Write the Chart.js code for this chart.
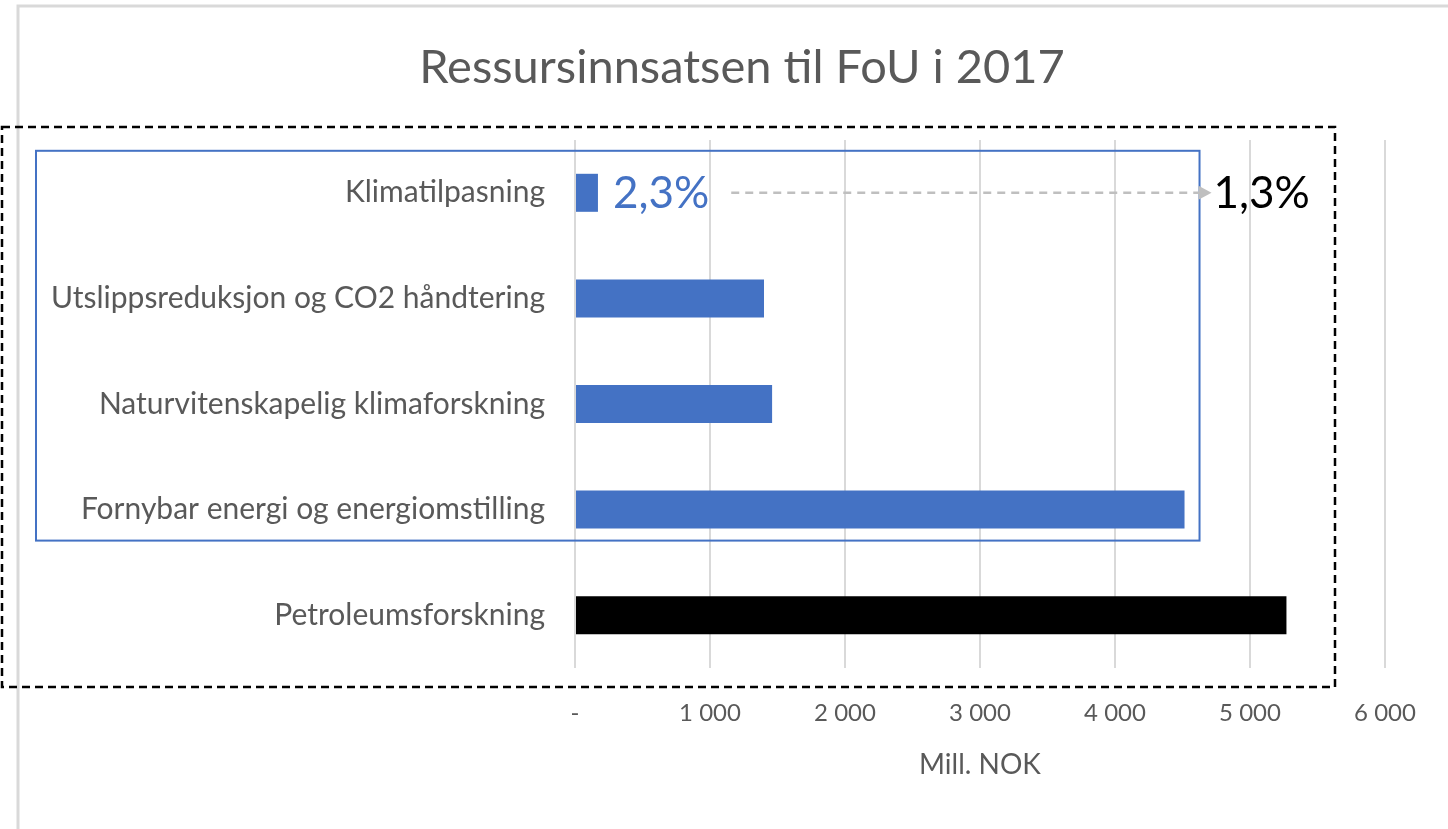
<!DOCTYPE html>
<html lang="no">
  <head>
    <meta charset="UTF-8" />
    <title>Ressursinnsatsen til FoU i 2017</title>
    <script src="https://cdn.jsdelivr.net/npm/chart.js@4"></script>
    <style>
      html, body {
        margin: 0;
        padding: 0;
        background: #ffffff;
      }
      #chart {
        display: block;
      }
    </style>
  </head>
  <body>
    <canvas id="chart" width="1448" height="829"></canvas>

    <script>
      const chartTitle = 'Ressursinnsatsen til FoU i 2017'
      const categories = [
        'Klimatilpasning',
        'Utslippsreduksjon og CO2 håndtering',
        'Naturvitenskapelig klimaforskning',
        'Fornybar energi og energiomstilling',
        'Petroleumsforskning',
      ]
      const values = [170, 1400, 1460, 4515, 5270] // mill. NOK
      const barColors = ['#4472C4', '#4472C4', '#4472C4', '#4472C4', '#000000']
      const xTicks = [0, 1000, 2000, 3000, 4000, 5000, 6000]
      const climateShare = '2,3%' // share of the blue group
      const totalShare = '1,3%' // share of everything

      const fontFamily = 'Lato, "Open Sans", sans-serif'
      const textGray = '#595959'

      function formatTick(value) {
        if (value === 0) return '-'
        return String(value).replace(/\B(?=(\d{3})+(?!\d))/g, ' ')
      }

      // title, boxes, the share labels and the arrow
      const overlay = {
        id: 'overlay',
        afterDraw(chart) {
          const ctx = chart.ctx
          const x = chart.scales.x
          const y = chart.scales.y
          const area = chart.chartArea

          ctx.save()

          // chart frame (only left and top edge are visible)
          ctx.strokeStyle = '#d9d9d9'
          ctx.lineWidth = 3
          ctx.beginPath()
          ctx.moveTo(18, chart.height)
          ctx.lineTo(18, 6)
          ctx.lineTo(chart.width, 6)
          ctx.stroke()

          // title, centred a bit right of the canvas middle like the original
          ctx.font = '47px ' + fontFamily
          ctx.fillStyle = textGray
          ctx.textAlign = 'center'
          ctx.textBaseline = 'middle'
          ctx.fillText(chartTitle, 742, 68)

          // dashed box round the whole plot
          ctx.strokeStyle = '#000000'
          ctx.lineWidth = 2.5
          ctx.setLineDash([8, 5])
          ctx.strokeRect(2, area.top - 13, x.getPixelForValue(6000) - 52, area.bottom - area.top + 32)

          // blue box round the climate categories
          ctx.setLineDash([])
          ctx.strokeStyle = '#4472C4'
          ctx.lineWidth = 2
          const boxTop = y.getPixelForValue(0) - 42
          const boxBottom = y.getPixelForValue(3) + 31
          const boxRight = x.getPixelForValue(values[3]) + 15
          ctx.strokeRect(36, boxTop, boxRight - 36, boxBottom - boxTop)

          // share labels and arrow
          const rowY = y.getPixelForValue(0)
          const labelX = x.getPixelForValue(values[0]) + 15
          ctx.font = '44px ' + fontFamily
          ctx.textAlign = 'left'
          ctx.fillStyle = '#4472C4'
          ctx.fillText(climateShare, labelX, rowY + 1)
          const firstEnd = labelX + ctx.measureText(climateShare).width

          const arrowEnd = boxRight + 12
          ctx.strokeStyle = '#bfbfbf'
          ctx.lineWidth = 2.5
          ctx.setLineDash([8, 6])
          ctx.beginPath()
          ctx.moveTo(firstEnd + 22, rowY)
          ctx.lineTo(arrowEnd - 12, rowY)
          ctx.stroke()
          ctx.setLineDash([])
          ctx.fillStyle = '#bfbfbf'
          ctx.beginPath()
          ctx.moveTo(arrowEnd - 13, rowY - 7)
          ctx.lineTo(arrowEnd, rowY)
          ctx.lineTo(arrowEnd - 13, rowY + 7)
          ctx.closePath()
          ctx.fill()

          ctx.fillStyle = '#000000'
          ctx.fillText(totalShare, arrowEnd + 2, rowY + 1)

          ctx.restore()
        },
      }

      new Chart(document.getElementById('chart'), {
        type: 'bar',
        data: {
          labels: categories,
          datasets: [
            {
              data: values,
              backgroundColor: barColors,
              barPercentage: 0.36,
              categoryPercentage: 1,
            },
          ],
        },
        options: {
          indexAxis: 'y',
          responsive: false,
          animation: false,
          devicePixelRatio: 1,
          layout: {
            padding: { left: 0, right: 63, top: 140, bottom: 39 },
          },
          plugins: {
            legend: { display: false },
            tooltip: { enabled: false },
            title: { display: false },
          },
          scales: {
            x: {
              min: 0,
              max: 6000,
              afterBuildTicks(scale) {
                scale.ticks = xTicks.map(v => ({ value: v }))
              },
              afterFit(scale) {
                scale.height = 122
              },
              grid: { color: '#d9d9d9', lineWidth: 2, drawTicks: false },
              border: { display: false },
              ticks: {
                callback: value => formatTick(value),
                color: textGray,
                font: { family: fontFamily, size: 24 },
                padding: 31,
              },
              title: {
                display: true,
                text: 'Mill. NOK',
                color: textGray,
                font: { family: fontFamily, size: 28 },
                padding: { top: 10, bottom: 8 },
              },
            },
            y: {
              grid: { display: false, drawTicks: false },
              border: { display: false },
              ticks: {
                color: textGray,
                font: { family: fontFamily, size: 30 },
                padding: 30,
              },
              afterFit(scale) {
                scale.width = 575
              },
            },
          },
        },
        plugins: [overlay],
      })
    </script>
  </body>
</html>
